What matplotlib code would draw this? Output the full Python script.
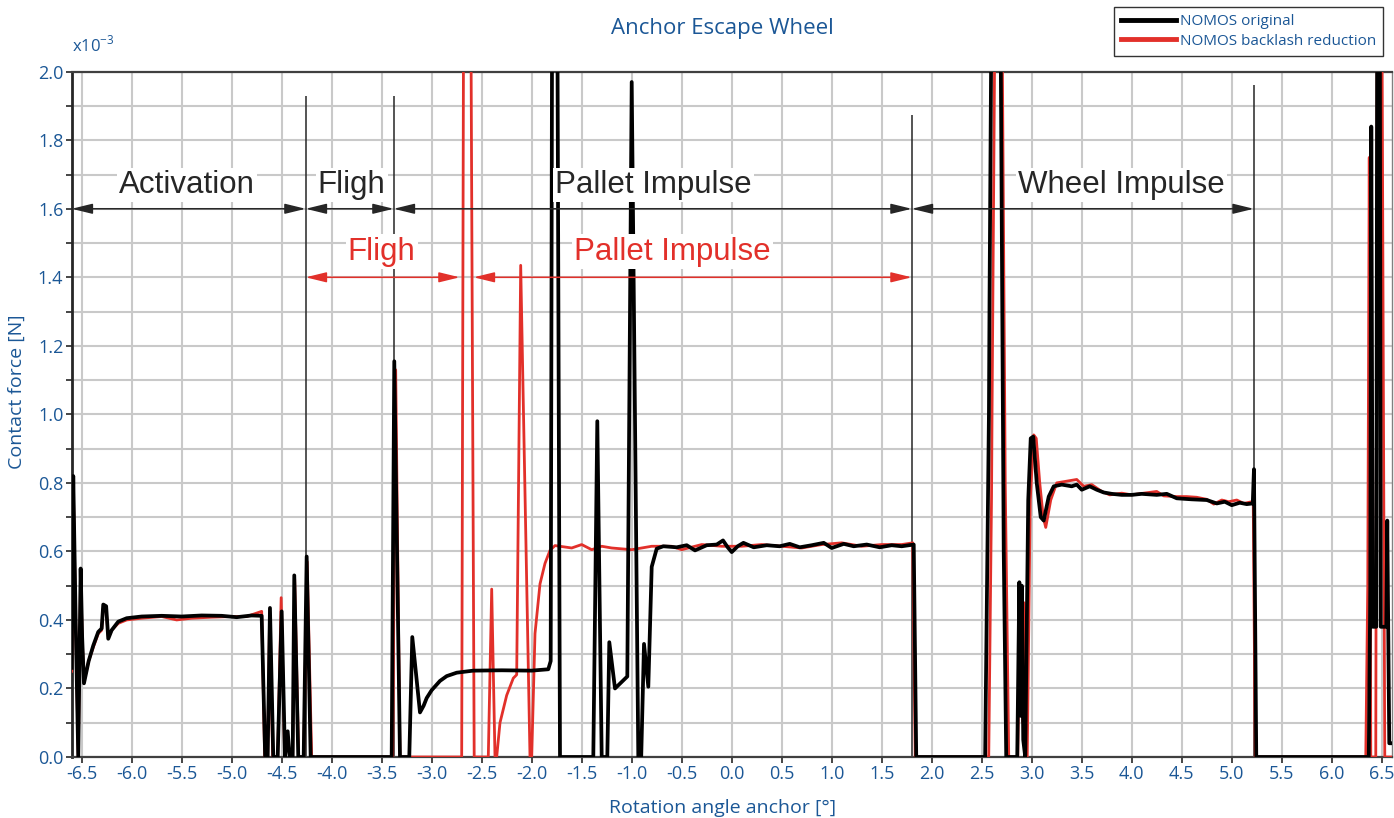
import numpy as np
import matplotlib.pyplot as plt
from matplotlib.ticker import MultipleLocator

BLUE = "#1b5796"
RED = "#e2302a"
INK = "#262626"
TICK_FONT = ["Liberation Sans Narrow", "Open Sans", "DejaVu Sans"]
LABEL_FONT = ["Liberation Sans", "DejaVu Sans"]

# ===== data: contact force [1e-3 N] vs anchor rotation angle [deg] =====
orig_x = [-6.600, -6.584, -6.560, -6.534, -6.510, -6.495, -6.477, -6.430, -6.384, -6.334,
          -6.300, -6.284, -6.255, -6.234, -6.200, -6.134, -6.050, -5.900, -5.700, -5.500,
          -5.300, -5.100, -4.950, -4.800, -4.700, -4.665, -4.640, -4.617, -4.584, -4.540,
          -4.500, -4.467, -4.440, -4.420, -4.390, -4.374, -4.334, -4.280, -4.250, -4.210,
          -3.400, -3.374, -3.317, -3.224, -3.194, -3.117, -3.080, -3.050, -3.000, -2.917,
          -2.850, -2.750, -2.584, -2.300, -2.000, -1.834, -1.810, -1.795, -1.745, -1.717,
          -1.384, -1.344, -1.300, -1.244, -1.224, -1.167, -1.044, -1.000, -0.934, -0.905,
          -0.877, -0.834, -0.800, -0.750, -0.684, -0.550, -0.450, -0.367, -0.250, -0.150,
          -0.087, -0.040, 0.000, 0.060, 0.117, 0.220, 0.350, 0.480, 0.580, 0.680,
          0.800, 0.920, 1.000, 1.120, 1.220, 1.350, 1.480, 1.600, 1.700, 1.820,
          1.845, 2.534, 2.572, 2.578, 2.600, 2.685, 2.720, 2.745, 2.855, 2.876,
          2.890, 2.900, 2.915, 2.935, 2.965, 2.990, 3.015, 3.050, 3.090, 3.120,
          3.170, 3.220, 3.300, 3.400, 3.450, 3.500, 3.580, 3.650, 3.720, 3.800,
          3.900, 4.000, 4.100, 4.250, 4.350, 4.450, 4.600, 4.750, 4.850, 4.930,
          5.000, 5.080, 5.150, 5.210, 5.222, 5.245, 6.370, 6.385, 6.395, 6.410,
          6.445, 6.455, 6.480, 6.490, 6.545, 6.555, 6.575, 6.600]
orig_y = [0.26, 0.82, 0.40, 0.00, 0.55, 0.35, 0.215, 0.28, 0.325, 0.365,
          0.375, 0.445, 0.44, 0.345, 0.37, 0.395, 0.405, 0.41, 0.412, 0.41,
          0.413, 0.412, 0.408, 0.413, 0.412, 0.00, 0.00, 0.435, 0.00, 0.00,
          0.425, 0.00, 0.075, 0.00, 0.00, 0.53, 0.00, 0.00, 0.585, 0.00,
          0.00, 1.155, 0.00, 0.00, 0.35, 0.13, 0.15, 0.172, 0.195, 0.222,
          0.236, 0.246, 0.252, 0.253, 0.252, 0.256, 0.28, 2.30, 2.30, 0.00,
          0.00, 0.98, 0.00, 0.00, 0.335, 0.20, 0.235, 1.97, 0.00, 0.00,
          0.33, 0.205, 0.555, 0.608, 0.615, 0.612, 0.618, 0.603, 0.618, 0.62,
          0.632, 0.612, 0.598, 0.615, 0.625, 0.612, 0.618, 0.615, 0.622, 0.612,
          0.618, 0.625, 0.61, 0.622, 0.615, 0.62, 0.612, 0.618, 0.615, 0.62,
          0.00, 0.00, 1.00, 1.335, 2.30, 2.30, 0.60, 0.00, 0.00, 0.51,
          0.12, 0.50, 0.05, 0.00, 0.75, 0.93, 0.935, 0.80, 0.70, 0.69,
          0.76, 0.79, 0.795, 0.79, 0.795, 0.78, 0.79, 0.78, 0.772, 0.768,
          0.765, 0.765, 0.768, 0.765, 0.768, 0.755, 0.752, 0.75, 0.74, 0.745,
          0.735, 0.742, 0.738, 0.74, 0.84, 0.00, 0.00, 0.49, 1.84, 0.38,
          0.38, 2.30, 2.30, 0.38, 0.38, 0.69, 0.04, 0.04]

red_x = [-6.600, -6.584, -6.560, -6.534, -6.510, -6.495, -6.477, -6.430, -6.384, -6.334,
         -6.300, -6.284, -6.255, -6.234, -6.200, -6.134, -6.050, -5.900, -5.700, -5.550,
         -5.400, -5.200, -5.000, -4.850, -4.700, -4.670, -4.640, -4.620, -4.590, -4.540,
         -4.505, -4.470, -4.440, -4.420, -4.390, -4.370, -4.330, -4.280, -4.245, -4.200,
         -3.390, -3.360, -3.317, -2.700, -2.680, -2.610, -2.575, -2.434, -2.400, -2.367,
         -2.350, -2.317, -2.250, -2.184, -2.150, -2.110, -2.017, -2.000, -1.967, -1.917,
         -1.867, -1.817, -1.767, -1.600, -1.500, -1.400, -1.300, -1.200, -1.000, -0.800,
         -0.600, -0.500, -0.300, -0.100, 0.100, 0.300, 0.500, 0.700, 0.900, 1.100,
         1.300, 1.500, 1.700, 1.810, 1.835, 2.570, 2.598, 2.603, 2.635, 2.700,
         2.735, 2.770, 2.860, 2.885, 2.910, 2.925, 2.945, 2.955, 2.985, 3.020,
         3.045, 3.080, 3.115, 3.140, 3.190, 3.250, 3.350, 3.450, 3.520, 3.600,
         3.700, 3.780, 3.900, 4.000, 4.120, 4.250, 4.320, 4.450, 4.550, 4.650,
         4.750, 4.820, 4.900, 4.970, 5.050, 5.120, 5.200, 5.215, 5.235, 6.340,
         6.360, 6.375, 6.390, 6.440, 6.455, 6.500, 6.530, 6.600]
red_y = [0.25, 0.80, 0.40, 0.00, 0.54, 0.35, 0.22, 0.28, 0.32, 0.36,
         0.37, 0.435, 0.43, 0.35, 0.37, 0.39, 0.40, 0.405, 0.41, 0.40,
         0.405, 0.408, 0.41, 0.41, 0.425, 0.00, 0.00, 0.43, 0.00, 0.00,
         0.465, 0.00, 0.06, 0.00, 0.00, 0.52, 0.00, 0.00, 0.57, 0.00,
         0.00, 1.13, 0.00, 0.00, 2.30, 2.30, 0.00, 0.00, 0.49, 0.00,
         0.00, 0.10, 0.18, 0.23, 0.24, 1.435, 0.00, 0.00, 0.36, 0.505,
         0.565, 0.603, 0.617, 0.61, 0.62, 0.605, 0.615, 0.61, 0.605, 0.615,
         0.615, 0.605, 0.62, 0.615, 0.615, 0.62, 0.615, 0.61, 0.62, 0.625,
         0.615, 0.62, 0.62, 0.625, 0.00, 0.00, 0.76, 1.00, 2.30, 2.30,
         0.80, 0.00, 0.00, 0.45, 0.10, 0.45, 0.00, 0.00, 0.75, 0.94,
         0.93, 0.80, 0.70, 0.67, 0.75, 0.80, 0.805, 0.81, 0.79, 0.795,
         0.775, 0.765, 0.77, 0.765, 0.77, 0.775, 0.762, 0.76, 0.76, 0.758,
         0.752, 0.738, 0.75, 0.745, 0.75, 0.74, 0.745, 0.74, 0.00, 0.00,
         0.50, 1.75, 0.00, 0.00, 2.30, 2.30, 0.00, 0.00]

# phase boundaries (black markers) and their heights
bound_x = [-4.26, -3.38, 1.80, 5.22]
bound_top = [1.93, 1.93, 1.875, 1.96]

phases_orig = ["Activation", "Fligh", "Pallet Impulse", "Wheel Impulse"]
phases_orig_span = [(-6.6, -4.26), (-4.26, -3.38), (-3.38, 1.80), (1.80, 5.22)]
phases_orig_pos = [-5.45, -3.80, -0.78, 3.90]

phases_red = ["Fligh", "Pallet Impulse"]
phases_red_span = [(-4.26, -2.72), (-2.58, 1.80)]
phases_red_pos = [-3.50, -0.59]

fig = plt.figure(figsize=(13.94, 8.18), dpi=100)
ax = fig.add_axes([0.0514, 0.0746, 0.9470, 0.8377])

ax.plot(red_x, red_y, color=RED, lw=2.0, zorder=3, label="NOMOS backlash reduction")
ax.plot(orig_x, orig_y, color="black", lw=2.7, zorder=3.5, label="NOMOS original")

ax.vlines(bound_x, 0, bound_top, color=INK, lw=1.1, zorder=2.5)

arrow = "<|-|>,head_length=0.9,head_width=0.22"
for (x0, x1) in phases_orig_span:
    ax.annotate("", xy=(x1, 1.6), xytext=(x0, 1.6), zorder=4,
                arrowprops=dict(arrowstyle=arrow, color=INK, lw=1.1,
                                shrinkA=0, shrinkB=0, mutation_scale=14))
for (x0, x1) in phases_red_span:
    ax.annotate("", xy=(x1, 1.40), xytext=(x0, 1.40), zorder=4,
                arrowprops=dict(arrowstyle=arrow, color=RED, lw=1.1,
                                shrinkA=0, shrinkB=0, mutation_scale=14))

box = dict(facecolor="white", edgecolor="none", pad=1.5)
for name, xp in zip(phases_orig, phases_orig_pos):
    ax.text(xp, 1.67, name, ha="center", va="center", fontsize=22.5,
            color=INK, family=LABEL_FONT, bbox=box, zorder=5)
for name, xp in zip(phases_red, phases_red_pos):
    ax.text(xp, 1.475, name, ha="center", va="center", fontsize=22.5,
            color=RED, family=LABEL_FONT, bbox=box, zorder=5)

ax.set_xlim(-6.6, 6.6)
ax.set_ylim(0, 2.0)
ax.xaxis.set_major_locator(MultipleLocator(0.5))
ax.yaxis.set_major_locator(MultipleLocator(0.2))
ax.yaxis.set_minor_locator(MultipleLocator(0.1))
ax.xaxis.set_major_formatter(plt.FuncFormatter(lambda v, p: f"{v:.1f}"))
ax.yaxis.set_major_formatter(plt.FuncFormatter(lambda v, p: f"{v:.1f}"))

ax.grid(True, which="both", axis="y", color="#c9c9c9", lw=1.5, zorder=0)
ax.grid(True, which="major", axis="x", color="#c9c9c9", lw=1.5, zorder=0)
ax.set_axisbelow(True)

ax.tick_params(axis="both", which="both", direction="out", color=INK,
               labelcolor=BLUE, labelsize=13, length=4, width=1.2, pad=2)
ax.tick_params(axis="y", which="minor", length=4)
for lab in ax.get_xticklabels() + ax.get_yticklabels():
    lab.set_family(TICK_FONT)

ax.spines["left"].set_linewidth(2.0)
ax.spines["left"].set_color(INK)
ax.spines["bottom"].set_linewidth(1.6)
ax.spines["bottom"].set_color("#404040")
ax.spines["top"].set_linewidth(1.6)
ax.spines["top"].set_color("#404040")
ax.spines["right"].set_linewidth(1.0)
ax.spines["right"].set_color("#808080")

ax.set_ylabel("Contact force [N]", color=BLUE, fontsize=14, family=TICK_FONT)
ax.yaxis.set_label_coords(-0.0345, 0.533)
ax.set_xlabel("Rotation angle anchor [°]", color=BLUE, fontsize=14, family=TICK_FONT)
ax.xaxis.set_label_coords(0.4927, -0.062)

fig.text(0.518, 0.965, "Anchor Escape Wheel", ha="center", va="center",
         color=BLUE, fontsize=16, family=TICK_FONT)
fig.text(0.0515, 0.945, r"x10$^{\mathregular{-3}}$", ha="left", va="center",
         color=BLUE, fontsize=12, family=TICK_FONT)

handles, labels = ax.get_legend_handles_labels()
leg = fig.legend(handles[::-1], labels[::-1], loc="upper right",
                 bbox_to_anchor=(0.992, 0.991), borderaxespad=0.0,
                 frameon=True, fancybox=False, edgecolor="black",
                 handlelength=3.6, handletextpad=0.25, borderpad=0.45,
                 labelspacing=0.3, prop={"family": TICK_FONT, "size": 11})
leg.get_frame().set_linewidth(1.0)
for t in leg.get_texts():
    t.set_color(BLUE)
for h in leg.get_lines():
    h.set_linewidth(3.5)

fig.savefig("out.png", dpi=100)
